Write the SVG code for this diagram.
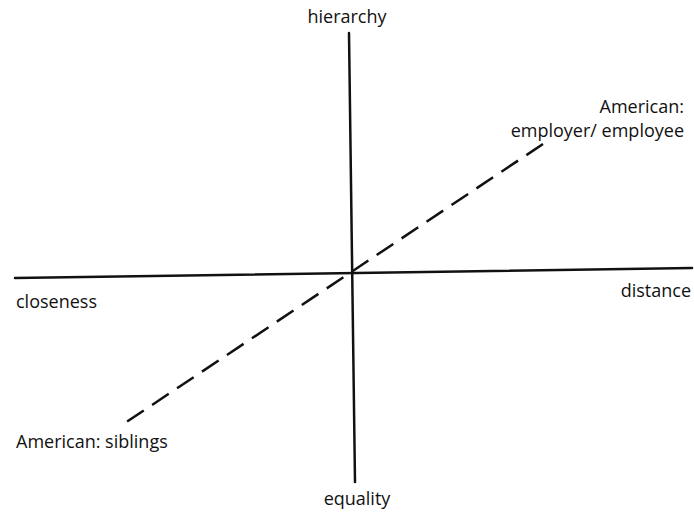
<svg xmlns="http://www.w3.org/2000/svg" width="694" height="513" viewBox="0 0 694 513">
<style>
.lbl{font-family:"Open Sans","Noto Sans","DejaVu Sans",sans-serif;font-size:18px;fill:#111;}
.axis{stroke:#111;stroke-width:2.5;fill:none;stroke-linecap:round;}
.dash{stroke:#111;stroke-width:2.5;fill:none;stroke-dasharray:20 10;}
</style>
<rect width="694" height="513" fill="#fff"/>
<g id="connectors">
<line class="axis" x1="349" y1="33" x2="355" y2="482"/>
<line class="axis" x1="15" y1="278" x2="692" y2="268"/>
<line class="dash" x1="543" y1="144" x2="122" y2="425"/>
</g>
<g id="hierarchy"><text class="lbl" x="347" y="23" text-anchor="middle">hierarchy</text></g>
<g id="equality"><text class="lbl" x="357" y="505" text-anchor="middle">equality</text></g>
<g id="closeness"><text class="lbl" x="16" y="308">closeness</text></g>
<g id="distance"><text class="lbl" x="691" y="297" text-anchor="end">distance</text></g>
<g id="employer"><text class="lbl" x="684" y="113" text-anchor="end">American:</text><text class="lbl" x="684" y="137" text-anchor="end">employer/ employee</text></g>
<g id="siblings"><text class="lbl" x="16" y="448">American: siblings</text></g>
</svg>
